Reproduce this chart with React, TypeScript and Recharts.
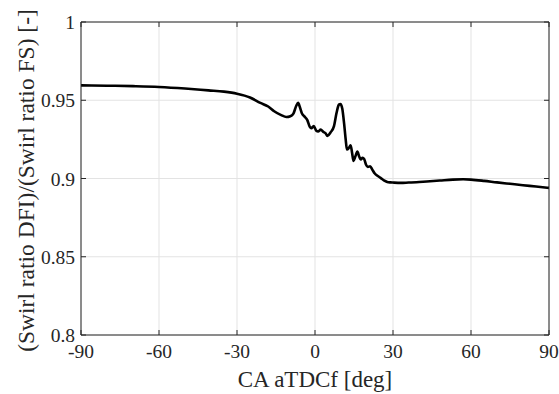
import React from 'react';
import { LineChart, Line, XAxis, YAxis, CartesianGrid } from 'recharts';

const crankAngle = [
  -90, -80, -70, -60, -50, -41, -35, -30, -25, -21, -18, -15.7, -13, -11, -9.5, -8.3, -7.2, -6.5, -5.8, -5,
  -4, -3, -2, -1.4, -0.5, 0.5, 1.2, 2.2, 3.2, 4, 4.8, 6, 7.3, 8.3, 9.2, 9.8, 10.5, 11.2, 11.8, 12.3,
  13.0, 13.7, 14.3, 14.8, 15.5, 16.3, 17.0, 17.6, 18.3, 18.9, 19.6, 20.3, 21.2, 22, 23, 24, 25.2, 26.5, 27.8, 29,
  30, 33, 36, 39, 43, 48, 53, 57, 60, 65, 70, 75, 80, 85, 90,
];
const swirlRatio = [
  0.9595, 0.9593, 0.959, 0.9585, 0.9575, 0.9563, 0.9555, 0.9542, 0.9518, 0.9483, 0.946, 0.943, 0.9405, 0.9393, 0.9398, 0.9415, 0.9465, 0.9483, 0.9455, 0.9415,
  0.9395, 0.9375, 0.933, 0.9322, 0.9335, 0.9305, 0.93, 0.9312, 0.9298, 0.929, 0.9272, 0.9295, 0.9335, 0.942, 0.9472, 0.9476, 0.9445, 0.935, 0.925, 0.9185,
  0.9195, 0.9212, 0.916, 0.9112, 0.914, 0.9172, 0.914, 0.9122, 0.9132, 0.9125, 0.909, 0.9074, 0.9078, 0.9058, 0.9032, 0.9018, 0.9004, 0.8988, 0.8978, 0.8975,
  0.8974, 0.8972, 0.8974, 0.8976, 0.8981, 0.8987, 0.8993, 0.8995, 0.8993, 0.8985, 0.8975, 0.8966, 0.8957, 0.8949, 0.894,
];
const xTicks = [-90, -60, -30, 0, 30, 60, 90];
const yTicks = [0.8, 0.85, 0.9, 0.95, 1];

const data = crankAngle.map((ca, i) => ({ ca, ratio: swirlRatio[i] }));

const FONT = '"Liberation Serif", "Times New Roman", serif';
const AX = '#262626';
const TICK_LEN = 5;
const TICK_FS = 19.5;

const BottomTick = (p: any) => (
  <g>
    <line x1={p.x} y1={p.y} x2={p.x} y2={p.y - TICK_LEN} stroke={AX} strokeWidth={1} />
    <text x={p.x} y={p.y + 23} textAnchor="middle" fontFamily={FONT} fontSize={TICK_FS} fill={AX}>
      {p.payload.value}
    </text>
  </g>
);
const TopTick = (p: any) => (
  <line x1={p.x} y1={p.y} x2={p.x} y2={p.y + TICK_LEN} stroke={AX} strokeWidth={1} />
);
const LeftTick = (p: any) => (
  <g>
    <line x1={p.x} y1={p.y} x2={p.x + TICK_LEN} y2={p.y} stroke={AX} strokeWidth={1} />
    <text x={p.x - 6} y={p.y + 7} textAnchor="end" fontFamily={FONT} fontSize={TICK_FS} fill={AX}>
      {p.payload.value}
    </text>
  </g>
);
const RightTick = (p: any) => (
  <line x1={p.x} y1={p.y} x2={p.x - TICK_LEN} y2={p.y} stroke={AX} strokeWidth={1} />
);

const YLabel = (props: any) => {
  const vb = props.viewBox || {};
  const cx = vb.x + 34;
  const cy = vb.y + vb.height / 2 + 2;
  return (
    <text
      x={cx}
      y={cy}
      transform={`rotate(-90, ${cx}, ${cy})`}
      textAnchor="middle"
      fontFamily={FONT}
      fontSize={23.5}
      fill={AX}
    >
      (Swirl ratio DFI)/(Swirl ratio FS) [-]
    </text>
  );
};

export default function App() {
  return (
    <div style={{ position: 'absolute', left: 0, top: 0, background: '#fff' }}>
      <LineChart
        width={559}
        height={394}
        data={data}
        margin={{ top: 21, right: 9, bottom: 0, left: 0 }}
      >
        <CartesianGrid stroke="#e3e3e3" strokeWidth={1} />
        <XAxis
          dataKey="ca"
          type="number"
          domain={[-90, 90]}
          ticks={xTicks}
          height={59}
          stroke={AX}
          tickSize={0}
          tickMargin={0}
          tickLine={false}
          tick={BottomTick}
          allowDataOverflow
          interval={0}
          label={{ value: 'CA aTDCf [deg]', position: 'insideBottom', offset: 7, fontFamily: FONT, fontSize: 23, fill: AX }}
        />
        <XAxis
          xAxisId="top"
          dataKey="ca"
          orientation="top"
          type="number"
          domain={[-90, 90]}
          ticks={xTicks}
          height={1}
          stroke={AX}
          tickSize={0}
          tickMargin={0}
          tickLine={false}
          tick={TopTick}
          allowDataOverflow
          interval={0}
        />
        <YAxis
          type="number"
          domain={[0.8, 1]}
          ticks={yTicks}
          width={81}
          stroke={AX}
          tickSize={0}
          tickMargin={0}
          tickLine={false}
          tick={LeftTick}
          allowDataOverflow
          interval={0}
          label={YLabel}
        />
        <YAxis
          yAxisId="right"
          orientation="right"
          type="number"
          domain={[0.8, 1]}
          ticks={yTicks}
          width={1}
          stroke={AX}
          tickSize={0}
          tickMargin={0}
          tickLine={false}
          tick={RightTick}
          allowDataOverflow
          interval={0}
        />
        <Line
          type="monotone"
          dataKey="ratio"
          stroke="#000"
          strokeWidth={2.6}
          dot={false}
          isAnimationActive={false}
        />
      </LineChart>
    </div>
  );
}
